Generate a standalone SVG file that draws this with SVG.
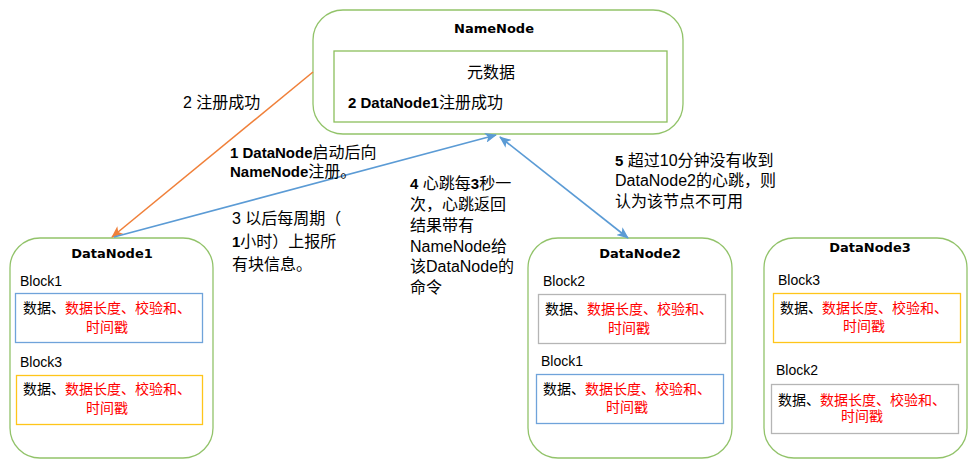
<svg xmlns="http://www.w3.org/2000/svg" width="979" height="465" viewBox="0 0 979 465">
<style>
.node{fill:#fff;stroke:#92C36A;stroke-width:1.3}
.inner{fill:#fff;stroke:#8CBF5C;stroke-width:1.3}
.title{font-family:"DejaVu Sans",sans-serif;font-weight:bold;font-size:13px;fill:#000}
.lbl{font-family:"Liberation Sans","Noto Sans CJK SC",sans-serif;font-size:14px;fill:#000}
.txt{font-family:"Liberation Sans","Noto Sans CJK SC",sans-serif;font-size:16px;fill:#000}
.b{font-family:"Liberation Sans",sans-serif;font-weight:bold;font-size:15px}
.blk{font-family:"Liberation Sans","Noto Sans CJK SC",sans-serif;font-size:14px;fill:#000}
.red{fill:#FF0000}
.bblue{fill:#fff;stroke:#6FA3DA;stroke-width:1.3}
.byel{fill:#fff;stroke:#FFC51A;stroke-width:1.3}
.bgray{fill:#fff;stroke:#B5B5B5;stroke-width:1.3}
.orange{stroke:#F0803A;stroke-width:1.6;fill:none}
.blue{stroke:#5B9BD5;stroke-width:1.6;fill:none}
</style>
<defs>
<marker id="ao" markerUnits="userSpaceOnUse" markerWidth="12" markerHeight="10" refX="11" refY="5" orient="auto">
<path d="M0,0 L12,5 L0,10 L3,5 Z" fill="#F0803A"/>
</marker>
<marker id="ab" markerUnits="userSpaceOnUse" markerWidth="12" markerHeight="10" refX="11" refY="5" orient="auto-start-reverse">
<path d="M0,0 L12,5 L0,10 L3,5 Z" fill="#5B9BD5"/>
</marker>
</defs>

<g id="namenode">
<rect class="node" x="313" y="10" width="370" height="124" rx="30"/>
<text class="title" x="494" y="33" text-anchor="middle">NameNode</text>
<rect class="inner" x="334" y="51" width="333" height="71"/>
<text class="txt" x="491" y="78" text-anchor="middle">元数据</text>
<text class="txt" x="348" y="108"><tspan class="b">2 DataNode1</tspan>注册成功</text>
</g>

<g id="datanode1">
<rect class="node" x="10" y="238" width="203" height="220" rx="30"/>
<text class="title" x="112" y="258" text-anchor="middle">DataNode1</text>
<text class="lbl" x="20" y="286">Block1</text>
<rect class="bblue" x="15.5" y="293.5" width="187" height="49"/>
<text class="blk" x="23" y="313">数据、<tspan class="red">数据长度、校验和、</tspan></text>
<text class="blk red" x="107" y="332" text-anchor="middle">时间戳</text>
<text class="lbl" x="20" y="367">Block3</text>
<rect class="byel" x="16.5" y="375.5" width="186" height="49"/>
<text class="blk" x="23" y="394">数据、<tspan class="red">数据长度、校验和、</tspan></text>
<text class="blk red" x="107" y="413" text-anchor="middle">时间戳</text>
</g>

<g id="datanode2">
<rect class="node" x="528" y="238" width="204" height="220" rx="30"/>
<text class="title" x="640" y="258" text-anchor="middle">DataNode2</text>
<text class="lbl" x="543" y="286">Block2</text>
<rect class="bgray" x="538.5" y="294.5" width="187" height="49"/>
<text class="blk" x="545" y="314">数据、<tspan class="red">数据长度、校验和、</tspan></text>
<text class="blk red" x="629" y="333" text-anchor="middle">时间戳</text>
<text class="lbl" x="541" y="366">Block1</text>
<rect class="bblue" x="536.5" y="374.5" width="187" height="49"/>
<text class="blk" x="543" y="394">数据、<tspan class="red">数据长度、校验和、</tspan></text>
<text class="blk red" x="627" y="412" text-anchor="middle">时间戳</text>
</g>

<g id="datanode3">
<rect class="node" x="764" y="238" width="203" height="220" rx="30"/>
<text class="title" x="870" y="252" text-anchor="middle">DataNode3</text>
<text class="lbl" x="778" y="285">Block3</text>
<rect class="byel" x="773.5" y="293.5" width="187" height="49"/>
<text class="blk" x="780" y="313">数据、<tspan class="red">数据长度、校验和、</tspan></text>
<text class="blk red" x="864" y="331" text-anchor="middle">时间戳</text>
<text class="lbl" x="776" y="375">Block2</text>
<rect class="bgray" x="771.5" y="384.5" width="187" height="49"/>
<text class="blk" x="778" y="405">数据、<tspan class="red">数据长度、校验和、</tspan></text>
<text class="blk red" x="862" y="421" text-anchor="middle">时间戳</text>
</g>

<g id="connectors">
<line class="orange" x1="313" y1="72" x2="112" y2="237" marker-end="url(#ao)"/>
<line class="blue" x1="114" y1="237" x2="496" y2="135" marker-end="url(#ab)"/>
<line class="blue" x1="500" y1="137" x2="628" y2="238" marker-start="url(#ab)" marker-end="url(#ab)"/>
</g>

<g id="labels">
<text class="txt" x="183" y="108">2 注册成功</text>
<text class="txt" x="230" y="158"><tspan class="b">1 DataNode</tspan>启动后向</text>
<text class="txt" x="230" y="177"><tspan class="b">NameNode</tspan>注册。</text>
<text class="txt" x="232" y="224">3 以后每周期（</text>
<text class="txt" x="232" y="247"><tspan class="b">1</tspan>小时）上报所</text>
<text class="txt" x="232" y="270">有块信息。</text>
<text class="txt" x="410" y="189"><tspan class="b">4</tspan> 心跳每<tspan class="b">3</tspan>秒一</text>
<text class="txt" x="410" y="210">次，心跳返回</text>
<text class="txt" x="410" y="231">结果带有</text>
<text class="txt" x="410" y="252">NameNode给</text>
<text class="txt" x="410" y="272">该DataNode的</text>
<text class="txt" x="410" y="293">命令</text>
<text class="txt" x="615" y="166"><tspan class="b">5</tspan> 超过10分钟没有收到</text>
<text class="txt" x="615" y="186">DataNode2的心跳，则</text>
<text class="txt" x="615" y="207">认为该节点不可用</text>
</g>
</svg>
